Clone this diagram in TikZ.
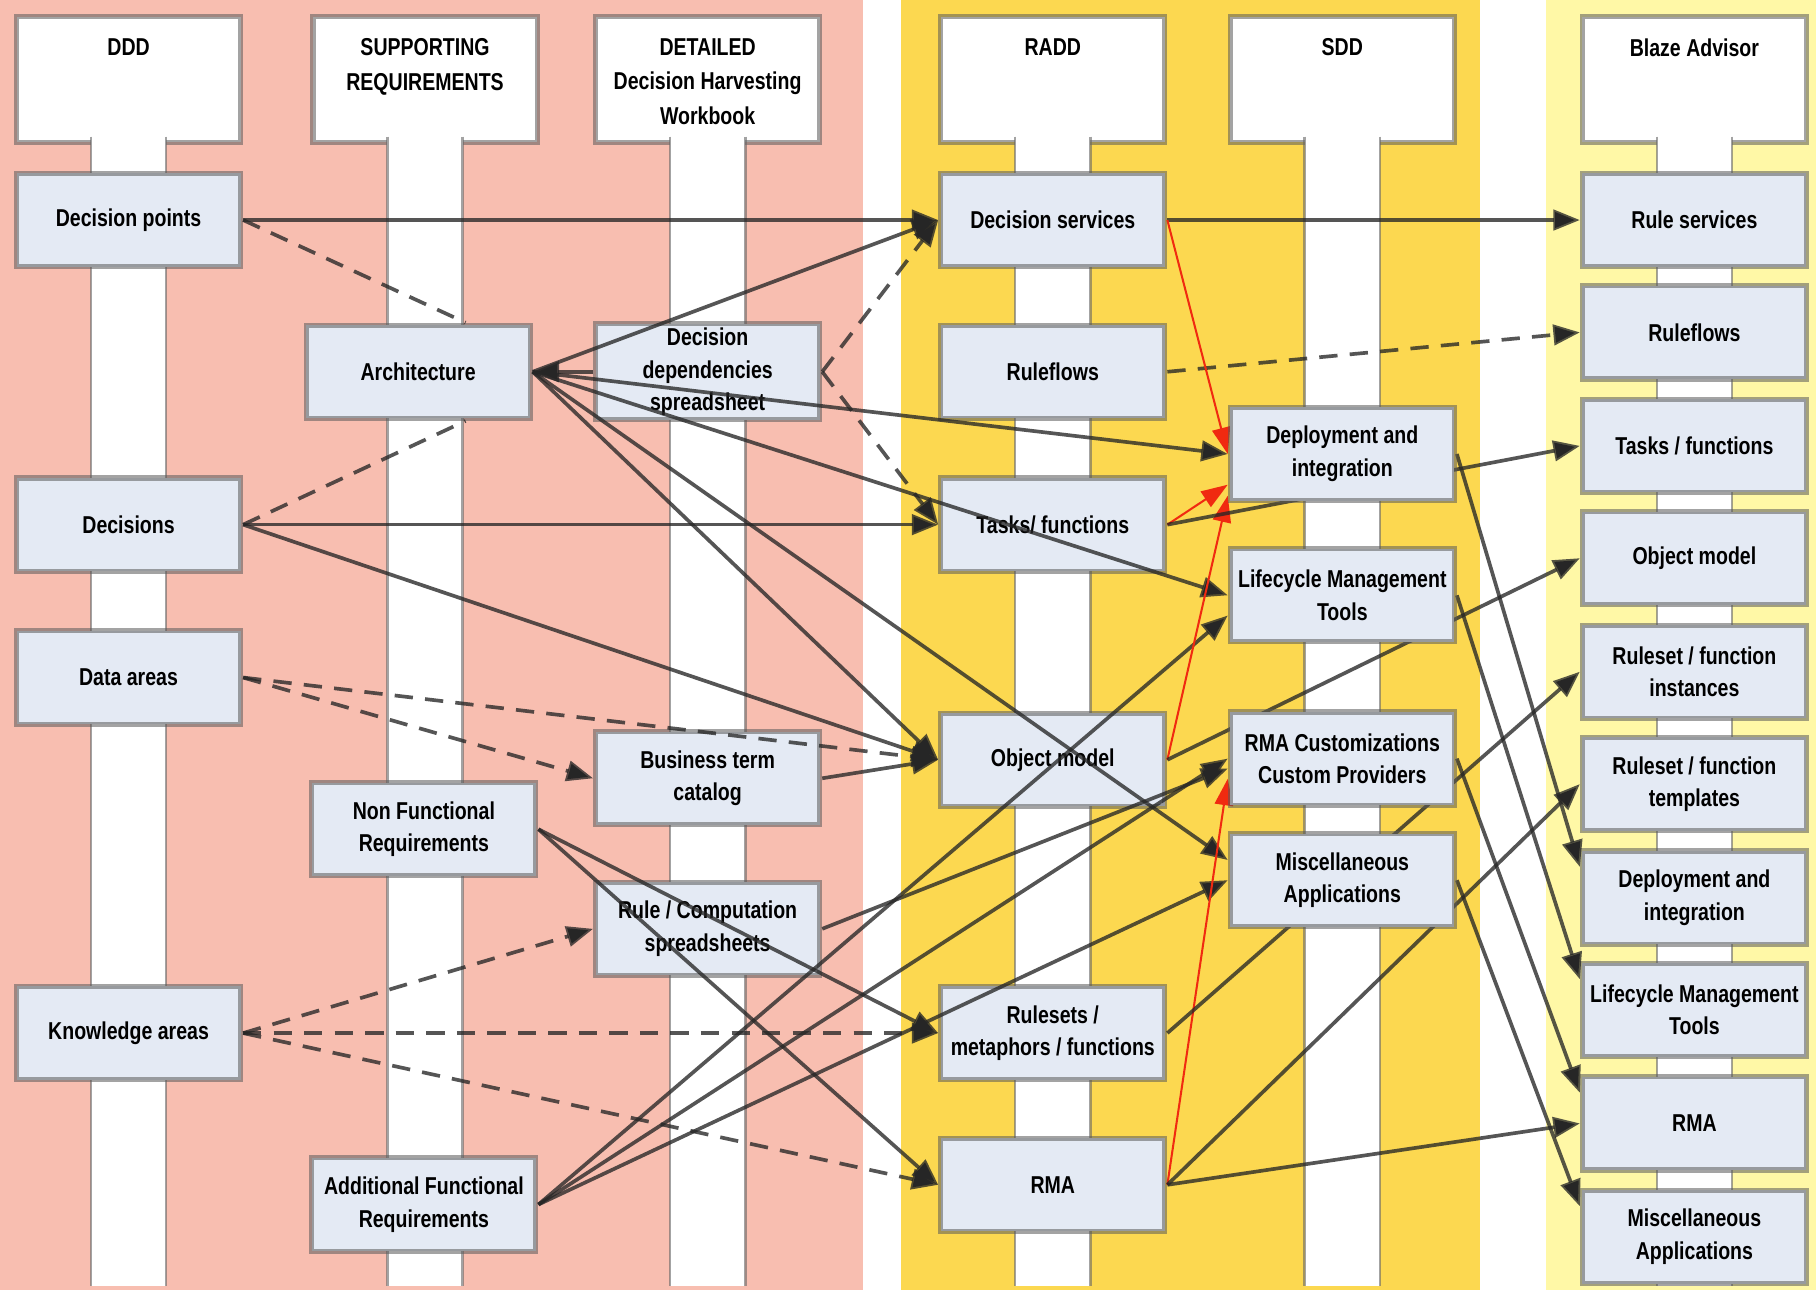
\documentclass[tikz,border=0pt]{standalone}
\usepackage{fontspec}
\setmainfont{Liberation Sans}[FakeStretch=0.8]
\usetikzlibrary{arrows.meta}
\definecolor{pinkbg}{HTML}{F8BEB0}
\definecolor{goldbg}{HTML}{FCD850}
\definecolor{lightbg}{HTML}{FFF8A6}
\definecolor{boxfill}{HTML}{E4EAF4}
\definecolor{redline}{HTML}{F02A10}
\pgfdeclarelayer{bg}
\pgfdeclarelayer{edges}
\pgfdeclarelayer{front}
\pgfsetlayers{bg,main,edges,front}
\tikzset{
  box/.style={draw=black!65, draw opacity=.55, line width=2.5pt, fill=boxfill,
    minimum width=3.87cm, minimum height=1.61cm, inner sep=2pt, align=center,
    font=\bfseries\fontsize{12}{16}\selectfont},
  hdr/.style={box, fill=white, minimum height=2.17cm},
  hdrtext/.style={anchor=north, align=center, font=\bfseries\fontsize{12}{17}\selectfont},
  stemside/.style={draw=black!60, draw opacity=.6, line width=1.2pt},
  conn/.style={draw=black!85, draw opacity=.78, line width=1.8pt,
    -{Triangle[length=13pt,width=10pt]}},
  dconn/.style={conn, dash pattern=on 9pt off 6pt},
  dline/.style={draw=black!85, draw opacity=.78, line width=1.8pt, dash pattern=on 9pt off 6pt},
  redc/.style={draw=redline, line width=1pt, -{Triangle[length=13pt,width=9pt]}}
}
\begin{document}
\begin{tikzpicture}[x=0.02cm,y=-0.02cm]
\useasboundingbox (0,0) rectangle (1568,1114);
\begin{pgfonlayer}{bg}
\fill[white] (0,0) rectangle (1568,1114);
\fill[pinkbg] (0,0) rectangle (745,1114);
\fill[goldbg] (778,0) rectangle (1278,1114);
\fill[lightbg] (1335,0) rectangle (1568,1114);
% column heads, then the white stems below them
\node[hdr] (hddd) at (111,68.5) {};
\node[hdr] (hsupp) at (367,68.5) {};
\node[hdr] (hdet) at (611,68.5) {};
\node[hdr] (hradd) at (909,68.5) {};
\node[hdr] (hsdd) at (1159,68.5) {};
\node[hdr] (hblaze) at (1463,68.5) {};
\foreach \x in {111,367,611,909,1159,1463} {
  \fill[white] (\x-32.5,118) rectangle (\x+32.5,1110);
  \draw[stemside] (\x-32.5,118) -- (\x-32.5,1110) (\x+32.5,118) -- (\x+32.5,1110);
}
\end{pgfonlayer}
\node[hdrtext] (tddd) at ([yshift=-0.3cm]hddd.north) {DDD};
\node[hdrtext] (tsupp) at ([yshift=-0.3cm]hsupp.north) {SUPPORTING\\REQUIREMENTS};
\node[hdrtext] (tdet) at ([yshift=-0.3cm]hdet.north) {DETAILED\\Decision Harvesting\\Workbook};
\node[hdrtext] (tradd) at ([yshift=-0.3cm]hradd.north) {RADD};
\node[hdrtext] (tsdd) at ([yshift=-0.3cm]hsdd.north) {SDD};
\node[hdrtext] (tblaze) at ([yshift=-0.3cm]hblaze.north) {Blaze Advisor};
% DDD
\node[box] (dpts) at (111,190) {Decision points};
\node[box] (dec) at (111,453) {Decisions};
\node[box] (data) at (111,585) {Data areas};
\node[box] (know) at (111,892) {Knowledge areas};
% supporting requirements
\node[box] (arch) at (361,321) {Architecture};
\node[box] (nfr) at (366,716) {Non Functional\\Requirements};
\node[box] (afr) at (366,1040) {Additional Functional\\Requirements};
% workbook
\node[box] (depsheet) at (611,321) {Decision\\dependencies\\spreadsheet};
\node[box] (catalog) at (611,672) {Business term\\catalog};
\node[box] (rulesheet) at (611,802) {Rule / Computation\\spreadsheets};
% RADD
\node[box] (dsvc) at (909,190) {Decision services};
\node[box] (rflow) at (909,321) {Ruleflows};
\node[box] (task) at (909,453) {Tasks/ functions};
\node[box] (omodel) at (909,656) {Object model};
\node[box] (rset) at (909,892) {Rulesets /\\metaphors / functions};
\node[box] (rma) at (909,1023) {RMA};
% SDD sits over the connectors
\begin{pgfonlayer}{front}
\node[box] (deploy) at (1159,392) {Deployment and\\integration};
\node[box] (lcm) at (1159,514) {Lifecycle Management\\Tools};
\node[box] (rmacust) at (1159,655) {RMA Customizations\\Custom Providers};
\node[box] (misc) at (1159,760) {Miscellaneous\\Applications};
\end{pgfonlayer}
% Blaze Advisor
\node[box] (bsvc) at (1463,190) {Rule services};
\node[box] (bflow) at (1463,287) {Ruleflows};
\node[box] (btask) at (1463,385) {Tasks / functions};
\node[box] (bomodel) at (1463,482) {Object model};
\node[box] (binst) at (1463,580) {Ruleset / function\\instances};
\node[box] (btmpl) at (1463,677) {Ruleset / function\\templates};
\node[box] (bdeploy) at (1463,775) {Deployment and\\integration};
\node[box] (blcm) at (1463,872) {Lifecycle Management\\Tools};
\node[box] (brma) at (1463,970) {RMA};
\node[box] (bmisc) at (1463,1068) {Miscellaneous\\Applications};

\begin{pgfonlayer}{edges}
\draw[dline] (dpts.east) -- (arch.46);
\draw[dline] (dec.east) -- (arch.-46);
\draw[dconn] (depsheet.east) -- (dsvc.west);
\draw[dconn] (depsheet.east) -- (task.west);
\draw[dconn] (rflow.east) -- (bflow.west);
\draw[dconn] (data.east) -- (omodel.west);
\draw[dconn] (data.east) -- (catalog.west);
\draw[dconn] (know.east) -- (rulesheet.west);
\draw[dconn] (know.east) -- (rset.west);
\draw[dconn] (know.east) -- (rma.west);
\draw[conn] (dpts.east) -- (dsvc.west);
\draw[conn] (dsvc.east) -- (bsvc.west);
\draw[conn] (dec.east) -- (task.west);
\draw[conn] (dec.east) -- (omodel.west);
\draw[conn] (depsheet.west) -- (arch.east);
\draw[conn] (arch.east) -- (dsvc.west);
\draw[conn] (arch.east) -- (deploy.west);
\draw[conn] (arch.east) -- (lcm.west);
\draw[conn] (arch.east) -- (omodel.west);
\draw[conn] (arch.east) -- (misc.170);
\draw[conn] (catalog.east) -- (omodel.west);
\draw[conn] (nfr.east) -- (rset.west);
\draw[conn] (nfr.east) -- (rma.west);
\draw[conn] (afr.east) -- (lcm.190);
\draw[conn] (afr.east) -- (rmacust.west);
\draw[conn] (afr.east) -- (misc.west);
\draw[conn] (rulesheet.east) -- (rmacust.185);
\draw[redc] (dsvc.east) -- (deploy.west);
\draw[redc] (task.east) -- (deploy.195);
\draw[redc] (omodel.east) -- (deploy.200);
\draw[redc] (rma.east) -- (rmacust.190);
\draw[conn] (task.east) -- (btask.west);
\draw[conn] (omodel.east) -- (bomodel.west);
\draw[conn] (rset.east) -- (binst.west);
\draw[conn] (rma.east) -- (btmpl.west);
\draw[conn] (rma.east) -- (brma.west);
\draw[conn] (deploy.east) -- (bdeploy.165);
\draw[conn] (lcm.east) -- (blcm.165);
\draw[conn] (rmacust.east) -- (brma.165);
\draw[conn] (misc.east) -- (bmisc.165);
\end{pgfonlayer}
\end{tikzpicture}
\end{document}
